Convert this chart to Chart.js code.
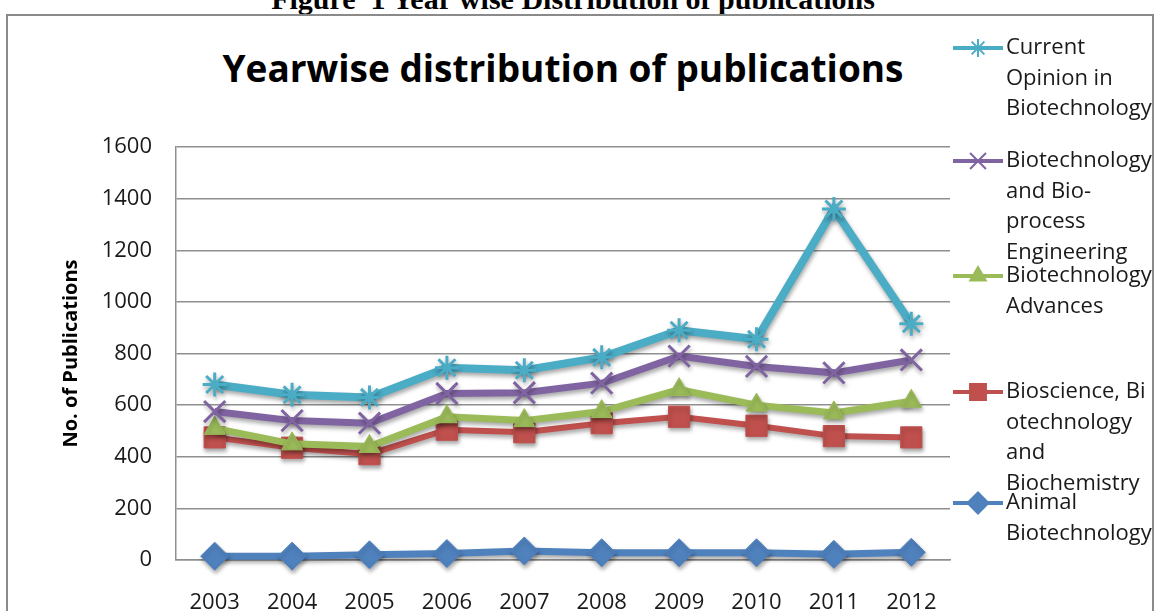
<!DOCTYPE html>
<html>
<head>
<meta charset="utf-8">
<script src="https://cdn.jsdelivr.net/npm/chart.js@4.4.0/dist/chart.umd.min.js"></script>
<style>
html, body { margin: 0; padding: 0; background: #fff; overflow: hidden; }
#wrap { position: relative; width: 1156px; height: 611px; overflow: hidden; }
#caption { position: absolute; left: 0; top: -16px; width: 1146px; text-align: center;
  font: bold 30px "Liberation Serif"; line-height: 30px; color: #000; white-space: nowrap; }
#frame { position: absolute; left: 6px; top: 14px; width: 1148px; height: 640px;
  border: 2px solid #8a8a8a; box-sizing: border-box; }
#title { position: absolute; left: 0; top: 48px; width: 1126px; text-align: center;
  font: bold 37px "Open Sans"; line-height: 40px; color: #000; white-space: nowrap; }
canvas { position: absolute; left: 0; top: 0; }
</style>
</head>
<body>
<div id="wrap">
  <div id="caption">Figure&nbsp; 1 Year wise Distribution of publications</div>
  <div id="frame"></div>
  <div id="title">Yearwise distribution of publications</div>
  <canvas id="grafico" width="1156" height="611"></canvas>
</div>
<script>
// dados
var anos = ['2003', '2004', '2005', '2006', '2007', '2008', '2009', '2010', '2011', '2012'];
var currentOpinion = [680, 640, 630, 745, 735, 785, 890, 855, 1360, 915];
var bioprocessEng = [575, 540, 530, 645, 648, 685, 790, 750, 725, 775];
var biotechAdvances = [510, 450, 440, 555, 540, 575, 660, 600, 570, 615];
var bioscienceBiochem = [475, 435, 410, 505, 495, 530, 555, 520, 480, 475];
var animalBiotech = [15, 15, 20, 25, 35, 28, 28, 28, 22, 30];
var yMin = 0, yMax = 1600, yStep = 200;

var nomes = [
    'Current Opinion in Biotechnology',
    'Biotechnology and Bio-process Engineering',
    'Biotechnology Advances',
    'Bioscience, Biotechnology and Biochemistry',
    'Animal Biotechnology'
];
var linhasLegenda = [
    ['Current', 'Opinion in', 'Biotechnology'],
    ['Biotechnology', 'and Bio-', 'process', 'Engineering'],
    ['Biotechnology', 'Advances'],
    ['Bioscience, Bi', 'otechnology', 'and', 'Biochemistry'],
    ['Animal', 'Biotechnology']
];
var posLegenda = [48, 161, 276, 392, 503];

function Serie(nome, valores, cor, estilo, raio, espessura) {
    return {
        label: nome,
        data: valores,
        borderColor: cor,
        backgroundColor: cor,
        borderWidth: espessura,
        pointStyle: estilo,
        pointRadius: raio,
        pointHoverRadius: raio,
        pointBorderWidth: (estilo == 'star' || estilo == 'crossRot') ? 3 : 1,
        pointBorderColor: cor,
        pointBackgroundColor: cor,
        tension: 0,
        fill: false,
        clip: false
    };
}

var sombra = {
    id: 'sombra',
    beforeDatasetsDraw: function (chart) {
        var ctx = chart.ctx;
        ctx.save();
        ctx.shadowColor = 'rgba(0,0,0,0.35)';
        ctx.shadowBlur = 4;
        ctx.shadowOffsetX = 1;
        ctx.shadowOffsetY = 3;
    },
    afterDatasetsDraw: function (chart) {
        chart.ctx.restore();
    }
};

var legendaLateral = {
    id: 'legendaLateral',
    afterDraw: function (chart) {
        var ctx = chart.ctx;
        chart.data.datasets.forEach(function (ds, i) {
            var y = posLegenda[i];
            ctx.save();
            ctx.strokeStyle = ds.borderColor;
            ctx.fillStyle = ds.backgroundColor;
            ctx.lineWidth = 4;
            ctx.beginPath();
            ctx.moveTo(953, y);
            ctx.lineTo(1003, y);
            ctx.stroke();
            ctx.lineWidth = 2;
            Chart.helpers.drawPoint(ctx, {
                pointStyle: ds.pointStyle,
                radius: ds.pointRadius * 0.75,
                borderWidth: 2,
                rotation: 0
            }, 978, y);
            ctx.fillStyle = '#1a1a1a';
            ctx.font = '22px "Open Sans"';
            ctx.textBaseline = 'middle';
            ctx.textAlign = 'left';
            linhasLegenda[i].forEach(function (txt, k) {
                ctx.fillText(txt, 1006, y + k * 30.5);
            });
            ctx.restore();
        });
    }
};

new Chart(document.getElementById('grafico'), {
    type: 'line',
    data: {
        labels: anos,
        datasets: [
            Serie(nomes[0], currentOpinion, '#4bacc6', 'star', 12, 8),
            Serie(nomes[1], bioprocessEng, '#8064a2', 'crossRot', 15, 7),
            Serie(nomes[2], biotechAdvances, '#9bbb59', 'triangle', 12, 7),
            Serie(nomes[3], bioscienceBiochem, '#c0504d', 'rect', 15, 6),
            Serie(nomes[4], animalBiotech, '#4f81bd', 'rectRot', 14, 7)
        ]
    },
    options: {
        responsive: false,
        animation: false,
        devicePixelRatio: 1,
        layout: { padding: { left: 55, top: 147, right: 206, bottom: 0 } },
        plugins: {
            legend: { display: false },
            title: { display: false },
            tooltip: { enabled: false }
        },
        scales: {
            x: {
                offset: true,
                grid: { display: false, drawTicks: false },
                border: { color: '#8f8f8f', width: 1.5 },
                ticks: { padding: 30, color: '#1a1a1a', font: { family: 'Open Sans', size: 22 } },
                afterFit: function (s) { s.height = 51; }
            },
            y: {
                min: yMin,
                max: yMax,
                grid: { color: '#8f8f8f', lineWidth: 1.5, drawTicks: false },
                border: { color: '#8f8f8f', width: 1.5 },
                ticks: {
                    stepSize: yStep,
                    padding: 24,
                    color: '#1a1a1a',
                    font: { family: 'Open Sans', size: 22 },
                    callback: function (v) { return String(v); }
                },
                title: {
                    display: true,
                    text: 'No. of Publications',
                    color: '#000',
                    padding: { top: 4, bottom: 0 },
                    font: { family: 'Open Sans', size: 20, weight: 'bold' }
                },
                afterFit: function (s) { s.width = 121; }
            }
        }
    },
    plugins: [sombra, legendaLateral]
});
</script>
</body>
</html>
